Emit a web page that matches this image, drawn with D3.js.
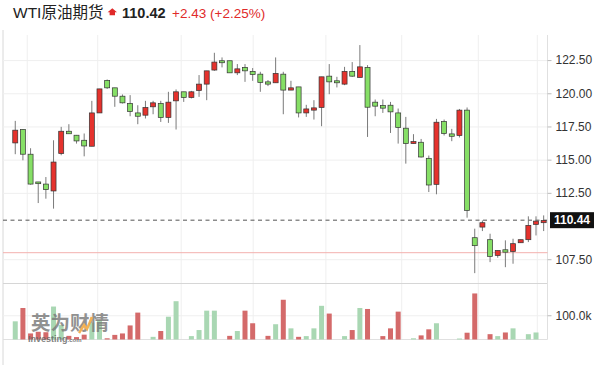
<!DOCTYPE html>
<html>
<head>
<meta charset="utf-8">
<script src="https://cdn.jsdelivr.net/npm/d3@7"></script>
<style>
  body { margin: 0; background: #fff; }
  svg { font-family: "Liberation Sans", Arial, "Noto Sans CJK SC", sans-serif; display: block; }
  .grid line { stroke: #efefef; }
  .grid path { display: none; }
  .axis path { display: none; }
  .axis line { stroke: #bbb; }
  .axis text { fill: #333; font-size: 12px; }
</style>
</head>
<body>
<svg width="600" height="365"></svg>
<script>
  // candles, 4h bars
  const opens = [116.26, 117.27, 115.41, 113.32, 113.16, 112.64, 115.46, 117.14, 116.84, 116.46,
    116.01, 118.52, 120.97, 120.41, 119.78, 119.23, 118.52, 118.35, 118.98, 119.23,
    118.18, 119.43, 120.11, 119.68, 120.21, 120.69, 121.75, 122.45, 122.45, 121.54,
    121.95, 121.65, 121.44, 120.86, 120.79, 121.44, 120.24, 120.48, 118.52, 118.73,
    118.93, 121.29, 120.94, 120.69, 121.65, 121.19, 121.95, 119.33, 119.08, 119.10,
    118.52, 117.37, 116.21, 116.31, 115.10, 113.14, 117.87, 116.94, 116.82, 118.73,
    109.12, 109.92, 108.97, 107.78, 108.21, 108.08, 108.74, 108.97, 110.12, 110.25];
  const highs = [117.92, 117.29, 115.86, 113.32, 113.69, 116.46, 117.47, 117.67, 116.86, 116.97,
    119.43, 120.33, 121.04, 120.41, 119.91, 119.86, 119.10, 119.43, 119.43, 119.43,
    120.11, 120.29, 120.11, 120.18, 121.37, 121.69, 123.05, 122.70, 122.45, 122.20,
    122.20, 121.90, 121.62, 121.00, 122.70, 121.62, 120.94, 120.48, 119.13, 119.48,
    121.24, 122.20, 121.24, 121.99, 122.35, 123.63, 122.12, 119.53, 119.53, 119.35,
    118.85, 118.22, 116.92, 116.56, 115.31, 118.07, 118.02, 117.32, 118.82, 118.93,
    109.80, 110.42, 109.42, 108.16, 108.92, 109.04, 108.97, 110.73, 110.73, 110.80];
  const lows = [115.41, 114.95, 113.12, 111.73, 112.06, 111.31, 115.33, 116.94, 116.21, 115.25,
    116.01, 118.52, 120.33, 118.98, 119.23, 118.27, 117.67, 118.10, 118.42, 117.84,
    117.77, 117.27, 119.35, 119.61, 119.73, 119.48, 121.69, 121.95, 121.54, 121.37,
    120.86, 120.94, 120.11, 120.54, 120.79, 118.42, 120.24, 118.18, 118.22, 118.02,
    117.52, 119.93, 120.44, 120.61, 121.24, 121.19, 116.71, 118.27, 118.52, 117.01,
    116.21, 114.70, 116.21, 115.16, 112.56, 112.39, 116.82, 116.39, 116.67, 110.63,
    106.45, 109.62, 107.28, 107.61, 106.90, 107.16, 108.74, 108.79, 109.29, 109.62];
  const closes = [117.22, 115.41, 113.16, 113.19, 112.74, 114.82, 117.14, 116.95, 116.41, 116.03,
    118.52, 120.33, 120.41, 119.78, 119.28, 118.63, 118.27, 118.93, 119.28, 118.18,
    119.33, 120.11, 119.68, 120.11, 120.69, 121.69, 122.35, 122.30, 121.54, 121.84,
    121.69, 121.42, 120.82, 120.69, 121.50, 120.24, 120.41, 118.52, 118.82, 118.90,
    121.24, 120.86, 120.79, 121.65, 121.29, 121.99, 118.95, 119.03, 118.88, 118.60,
    117.42, 116.21, 116.36, 115.20, 113.09, 117.82, 116.97, 116.76, 118.73, 111.18,
    108.52, 110.25, 107.71, 108.16, 108.03, 108.67, 108.97, 110.05, 110.37, 110.42];
  // volume in thousands
  const volumes = [75, 130, 25, 32, 30, 136, 60, 15, 10, 20,
    70, 80, 5, 19, 25, 58, 111, 0, 11, 35,
    94, 158, 0, 14, 39, 119, 119, 0, 15, 35,
    119, 67, 0, 15, 63, 164, 46, 11, 14, 46,
    139, 107, 0, 14, 39, 130, 126, 0, 14, 46,
    115, 0, 5, 17, 42, 67, 0, 0, 4, 28,
    190, 0, 22, 14, 29, 46, 0, 22, 29, 0];

  const tickIndex = [1.5, 10.7, 21.6, 31, 40.5, 50.4, 60.4, 68.1];
  const tickLabels = ['6/2', '6/4', '6/8', '6/10', '6/14', '6/16', '6/18', '12:00'];
  const priceTicks = [107.5, 112.5, 115, 117.5, 120, 122.5];
  const volTicks = [100];

  const lastPrice = 110.44;
  const prevClose = 107.99;

  const upColor = '#e5322d', downColor = '#86df66';
  const volUp = '#a9d7b3', volDown = '#d46a6a';

  const svg = d3.select('svg');
  const left = 3, right = 547.5;
  const priceTop = 35, priceBottom = 283.5;
  const volTop = 284, volBottom = 339.5;

  const x = d3.scaleLinear().domain([-1.6, 69.5]).range([left, right]);
  const y = d3.scaleLinear().domain([105.67, 124.39]).range([priceBottom, priceTop]);
  const yVol = d3.scaleLinear().domain([0, 229]).range([volBottom, volTop]);

  // header
  const head = svg.append('g');
  head.append('text').attr('x', 13).attr('y', 18).style('font-size', '15.5px').attr('fill', '#222')
    .text('WTI原油期货');
  head.append('path').attr('d', 'M112.3,8.3 L117,12.2 L115,12.2 L115,15.2 L109.6,15.2 L109.6,12.2 L107.6,12.2 Z')
    .attr('fill', '#e02a2a');
  head.append('text').attr('x', 122).attr('y', 18).style('font-size', '14.5px').style('font-weight', 'bold')
    .attr('fill', '#222').text('110.42');
  head.append('text').attr('x', 172).attr('y', 18).style('font-size', '13.5px').attr('fill', '#e02a2a')
    .text('+2.43');
  head.append('text').attr('x', 210).attr('y', 18).style('font-size', '13.5px').attr('fill', '#e02a2a')
    .text('(+2.25%)');

  // frame
  svg.append('line').attr('x1', 3).attr('x2', 3).attr('y1', 30).attr('y2', 365).attr('stroke', '#d8d8d8');

  // vertical grid
  svg.append('g').attr('class', 'grid').attr('transform', `translate(0,${volBottom})`)
    .call(d3.axisBottom(x).tickValues(tickIndex).tickSize(-(volBottom - priceTop)).tickFormat(''));
  // horizontal grid
  svg.append('g').attr('class', 'grid').attr('transform', `translate(${right},0)`)
    .call(d3.axisRight(y).tickValues(priceTicks).tickSize(-(right - left)).tickFormat(''));
  svg.append('g').attr('class', 'grid').attr('transform', `translate(${right},0)`)
    .call(d3.axisRight(yVol).tickValues(volTicks).tickSize(-(right - left)).tickFormat(''));

  svg.append('line').attr('x1', left).attr('x2', right).attr('y1', priceBottom).attr('y2', priceBottom).attr('stroke', '#d6d6d6');
  svg.append('line').attr('x1', left).attr('x2', right).attr('y1', volBottom).attr('y2', volBottom).attr('stroke', '#e0e0e0');
  svg.append('line').attr('x1', right).attr('x2', right).attr('y1', priceTop).attr('y2', volBottom).attr('stroke', '#e0e0e0');

  // previous close and last price lines
  svg.append('line').attr('x1', left).attr('x2', right).attr('y1', y(prevClose)).attr('y2', y(prevClose))
    .attr('stroke', '#f3b0ae');
  svg.append('line').attr('x1', left).attr('x2', right).attr('y1', y(lastPrice)).attr('y2', y(lastPrice))
    .attr('stroke', '#555').attr('stroke-dasharray', '4,3.5');

  // volume
  const idx = d3.range(opens.length);
  svg.append('g').selectAll('rect').data(idx).join('rect')
    .attr('x', i => x(i) - 2.5).attr('width', 5)
    .attr('y', i => yVol(volumes[i])).attr('height', i => volBottom - yVol(volumes[i]))
    .attr('fill', i => closes[i] >= opens[i] ? volUp : volDown);

  // watermark
  const wm = svg.append('g').attr('opacity', 0.82);
  wm.append('text').attr('x', 31).attr('y', 329.5).style('font-size', '19.5px').style('font-weight', 'bold')
    .attr('fill', '#7a7a7a').text('英为财情');
  wm.append('path').attr('d', 'M79,333 L84,325 L87,329 L92,317').attr('fill', 'none')
    .attr('stroke', '#f0a030').attr('stroke-width', 2.5);
  wm.append('text').attr('x', 28).attr('y', 341.5).style('font-size', '9px').style('font-weight', 'bold')
    .attr('fill', '#666').text('Investing').append('tspan').style('font-size', '6px').text('.com');

  // candles
  const candles = svg.append('g').selectAll('g').data(idx).join('g');
  candles.append('line')
    .attr('x1', i => x(i)).attr('x2', i => x(i))
    .attr('y1', i => y(highs[i])).attr('y2', i => y(lows[i]))
    .attr('stroke', '#7a7a7a').attr('stroke-width', 1);
  candles.append('rect')
    .attr('x', i => x(i) - 2.5).attr('width', 5)
    .attr('y', i => y(Math.max(opens[i], closes[i])))
    .attr('height', i => Math.max(1.2, Math.abs(y(opens[i]) - y(closes[i]))))
    .attr('fill', i => closes[i] >= opens[i] ? upColor : downColor)
    .attr('stroke', '#333').attr('stroke-width', 0.7);

  // right axes
  svg.append('g').attr('class', 'axis').attr('transform', `translate(${right},0)`)
    .call(d3.axisRight(y).tickValues(priceTicks).tickSize(4).tickPadding(4).tickFormat(d3.format('.2f')));
  svg.append('g').attr('class', 'axis').attr('transform', `translate(${right},0)`)
    .call(d3.axisRight(yVol).tickValues(volTicks).tickSize(4).tickPadding(4).tickFormat(d => d.toFixed(1) + 'k'));

  // last price tag
  svg.append('rect').attr('x', 550).attr('y', y(lastPrice) - 8).attr('width', 44).attr('height', 16).attr('fill', '#111');
  svg.append('text').attr('x', 572).attr('y', y(lastPrice) + 4.3).attr('text-anchor', 'middle')
    .style('font-size', '12px').style('font-weight', 'bold').attr('fill', '#fff').text(lastPrice.toFixed(2));

  // bottom labels
  svg.append('clipPath').attr('id', 'xclip').append('rect').attr('x', 0).attr('y', 340).attr('width', right).attr('height', 25);
  svg.append('g').attr('class', 'axis').attr('clip-path', 'url(#xclip)').attr('transform', `translate(0,${volBottom})`)
    .call(d3.axisBottom(x).tickValues(tickIndex).tickSize(0).tickPadding(8).tickFormat((d, i) => tickLabels[i]));
</script>
</body>
</html>
